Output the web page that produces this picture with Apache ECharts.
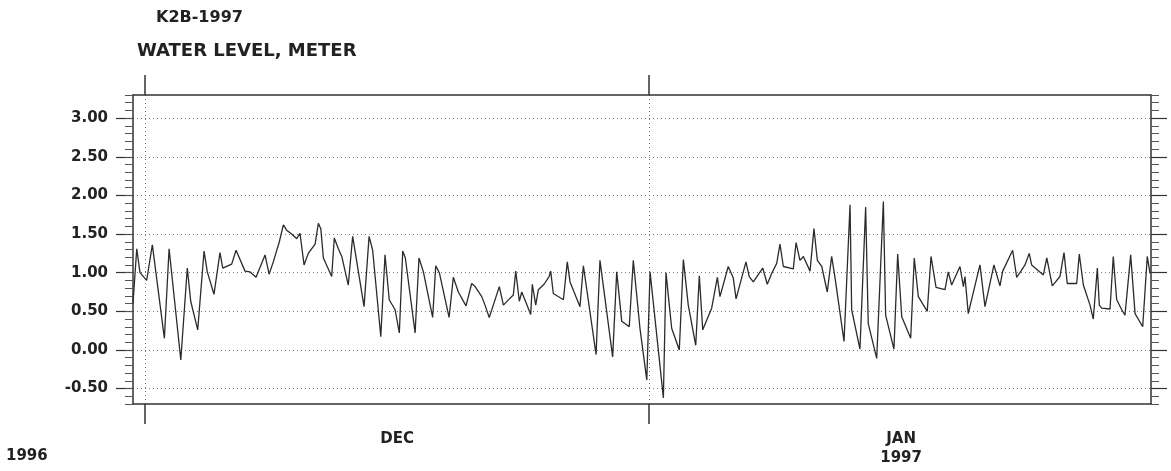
<!DOCTYPE html>
<html>
<head>
<meta charset="utf-8">
<script src="https://cdn.jsdelivr.net/npm/echarts@6/dist/echarts.min.js"></script>
<style>
html,body{margin:0;padding:0;background:#fff;}
#chart{width:1171px;height:471px;}
</style>
</head>
<body>
<div id="chart"></div>
<script>
// Days since 1996-12-01 00:00
const dayOffsets = [
-0.74,-0.51,-0.31,0.10,0.45,1.19,1.48,2.20,2.60,2.81,
3.24,3.63,3.83,4.24,4.61,4.78,5.33,5.60,6.15,6.46,
6.83,7.38,7.63,7.89,8.26,8.51,8.71,9.02,9.33,9.53,
9.78,10.04,10.46,10.66,10.81,10.97,11.48,11.64,11.89,12.10,
12.50,12.77,13.47,13.78,14.00,14.50,14.76,15.02,15.38,15.64,
15.85,16.01,16.61,16.85,17.12,17.69,17.88,18.10,18.70,18.96,
19.27,19.74,20.09,20.30,20.71,20.91,21.17,21.79,22.04,22.45,
22.65,22.80,23.02,23.17,23.72,23.82,24.03,24.19,24.54,24.85,
24.95,25.11,25.73,25.97,26.14,26.75,26.96,27.74,27.98,28.76,
29.01,29.32,29.78,30.03,30.44,30.86,31.06,31.88,32.04,32.39,
32.86,33.11,33.41,33.87,34.09,34.30,34.85,35.20,35.36,35.87,
36.18,36.35,36.96,37.16,37.41,37.99,38.27,38.54,38.85,39.05,
39.26,39.87,40.04,40.28,40.49,40.90,41.14,41.35,41.62,41.96,
42.23,42.44,42.99,43.36,43.46,43.97,44.32,44.48,45.00,45.41,
45.55,46.06,46.29,46.54,47.09,47.31,47.56,48.11,48.34,48.65,
49.20,49.40,49.61,50.12,50.33,50.43,50.63,51.35,51.66,52.21,
52.58,52.75,53.36,53.61,53.81,54.12,54.38,54.53,55.25,55.46,
55.80,56.27,56.52,56.72,57.30,57.46,57.71,58.12,58.32,58.57,
58.69,58.84,59.35,59.55,59.76,60.07,60.27,60.62,60.89,61.36,
61.64,61.81
];
// Water level, meter
const waterLevel = [
0.60,1.31,1.00,0.90,1.36,0.15,1.31,-0.13,1.06,0.63,
0.26,1.28,1.01,0.72,1.26,1.06,1.11,1.29,1.02,1.01,
0.94,1.23,0.98,1.14,1.40,1.62,1.55,1.50,1.44,1.51,
1.10,1.25,1.37,1.64,1.57,1.19,0.95,1.45,1.31,1.21,
0.84,1.47,0.56,1.47,1.29,0.17,1.23,0.65,0.52,0.22,
1.28,1.19,0.22,1.19,1.01,0.42,1.09,1.00,0.42,0.94,
0.75,0.57,0.86,0.82,0.69,0.58,0.42,0.82,0.58,0.67,
0.71,1.02,0.63,0.75,0.46,0.85,0.58,0.78,0.85,0.95,
1.02,0.73,0.65,1.14,0.88,0.56,1.09,-0.06,1.16,-0.09,
1.01,0.37,0.30,1.16,0.28,-0.39,1.01,-0.62,1.00,0.28,
0.00,1.17,0.58,0.06,0.96,0.26,0.54,0.94,0.69,1.08,
0.93,0.66,1.14,0.95,0.88,1.06,0.85,0.99,1.12,1.37,
1.08,1.05,1.39,1.16,1.21,1.02,1.57,1.16,1.08,0.75,
1.21,0.93,0.11,1.88,0.52,0.01,1.85,0.34,-0.11,1.92,
0.45,0.01,1.24,0.43,0.15,1.19,0.69,0.50,1.21,0.81,
0.78,1.01,0.84,1.08,0.82,0.95,0.47,1.10,0.56,1.10,
0.83,1.02,1.29,0.94,1.00,1.10,1.25,1.10,0.97,1.19,
0.83,0.95,1.26,0.86,0.86,1.24,0.84,0.58,0.40,1.06,
0.58,0.54,0.53,1.21,0.65,0.52,0.45,1.23,0.47,0.30,
1.21,0.99
];
const monthStarts = [0, 31];           // Dec 1, Jan 1 (days since Dec 1)
const monthCenters = [15.5, 46.5];
const monthLabels = ['DEC', 'JAN\n1997'];
const yMajorTicks = [-0.5, 0, 0.5, 1.0, 1.5, 2.0, 2.5, 3.0];
const yMinorTicks = [];
for (let i = -7; i <= 33; i++) yMinorTicks.push(i / 10);
const xMin = -0.74, xMax = 61.87, yMin = -0.7, yMax = 3.3;

const seriesData = dayOffsets.map((d, i) => [d, waterLevel[i]]);

const FONT = 'DejaVu Sans';
const lineColor = '#333';

const chart = echarts.init(document.getElementById('chart'), null, {renderer: 'canvas'});
const baseY = {
  type: 'value', min: yMin, max: yMax, axisLine: {show: false, onZero: false},
  axisLabel: {show: false}, splitLine: {show: false}, axisTick: {show: false}
};
chart.setOption({
  animation: false,
  backgroundColor: '#fff',
  title: [
    {text: 'K2B-1997', left: 151, top: 5,
     textStyle: {fontFamily: FONT, fontSize: 16, fontWeight: 'bold', color: '#222'}},
    {text: 'WATER LEVEL, METER', left: 132, top: 37,
     textStyle: {fontFamily: FONT, fontSize: 18, fontWeight: 'bold', color: '#222'}}
  ],
  graphic: [
    {type: 'text', left: 6, top: 449,
     style: {text: '1996', font: 'bold 15px "DejaVu Sans"', fill: '#222'}}
  ],
  grid: {left: 133, right: 20, top: 95, bottom: 67, containLabel: false},
  xAxis: [
    {
      type: 'value', min: xMin, max: xMax, position: 'bottom',
      axisLine: {show: true, onZero: false, lineStyle: {color: lineColor, width: 1.5}},
      axisTick: {show: true, customValues: monthStarts, length: 20, inside: false,
                 lineStyle: {color: lineColor, width: 1.5}},
      axisLabel: {show: true, customValues: monthCenters, margin: 26,
                  formatter: v => monthLabels[monthCenters.indexOf(v)],
                  fontFamily: FONT, fontSize: 15, fontWeight: 'bold', color: '#222',
                  lineHeight: 19, verticalAlign: 'top'},
      splitLine: {show: true, lineStyle: {color: '#777', type: [1, 3], width: 1}}
    },
    {
      type: 'value', min: xMin, max: xMax, position: 'top',
      axisLine: {show: true, onZero: false, lineStyle: {color: lineColor, width: 1.5}},
      axisTick: {show: true, customValues: monthStarts, length: 20, inside: false,
                 lineStyle: {color: lineColor, width: 1.5}},
      axisLabel: {show: false}, splitLine: {show: false}
    }
  ],
  yAxis: [
    {
      type: 'value', min: yMin, max: yMax, position: 'left',
      axisLine: {show: true, onZero: false, lineStyle: {color: lineColor, width: 1.5}},
      axisTick: {show: true, customValues: yMajorTicks, length: 17,
                 lineStyle: {color: lineColor, width: 1.2}},
      axisLabel: {show: true, customValues: yMajorTicks, margin: 25,
                  formatter: v => v.toFixed(2),
                  fontFamily: FONT, fontSize: 15, fontWeight: 'bold', color: '#222'},
      splitLine: {show: true, lineStyle: {color: '#777', type: [1, 3], width: 1}}
    },
    Object.assign({}, baseY, {position: 'left',
      axisTick: {show: true, customValues: yMinorTicks, length: 8,
                 lineStyle: {color: '#555', width: 1}}}),
    Object.assign({}, baseY, {position: 'right',
      axisLine: {show: true, onZero: false, lineStyle: {color: lineColor, width: 1.5}},
      axisTick: {show: true, customValues: yMinorTicks, length: 8,
                 lineStyle: {color: '#555', width: 1}}}),
    Object.assign({}, baseY, {position: 'right',
      axisTick: {show: true, customValues: yMajorTicks, length: 16,
                 lineStyle: {color: lineColor, width: 1.2}}})
  ],
  series: [{
    type: 'line', data: seriesData, xAxisIndex: 0, yAxisIndex: 0,
    showSymbol: false, symbol: 'none',
    lineStyle: {color: '#2b2b2b', width: 1.3}
  }]
});
</script>
</body>
</html>
